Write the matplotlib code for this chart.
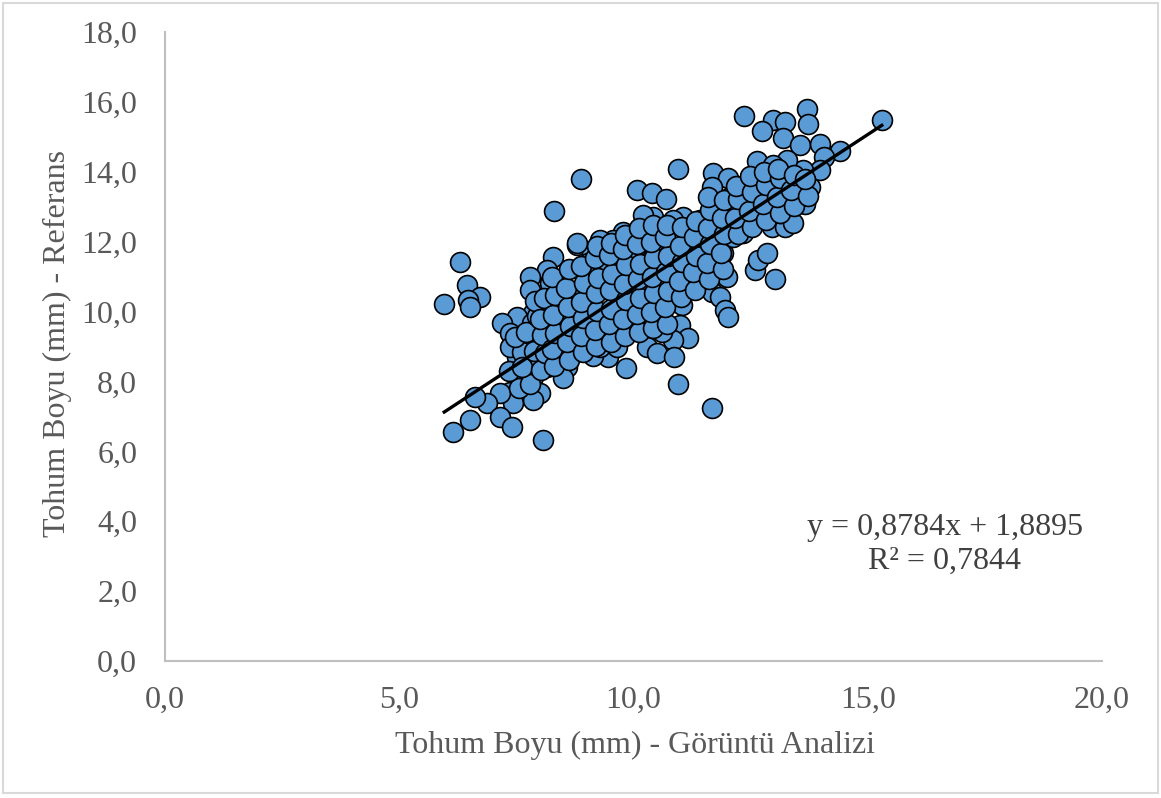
import matplotlib
matplotlib.use("Agg")
import matplotlib.pyplot as plt
from matplotlib.patches import Rectangle
import numpy as np

# Seed length (mm): image analysis (x) vs reference (y)
x_vals = [
    12.36, 12.98, 13.23, 12.74, 13.19, 13.70, 13.72, 13.55, 13.98, 14.41, 15.30, 14.06,
    10.95, 8.88, 8.30, 10.07, 10.39, 10.69, 11.70, 12.02, 11.68, 12.64, 12.55, 12.06,
    13.23, 13.38, 13.66, 13.70, 12.85, 12.42, 11.85, 12.96, 13.23, 12.59, 12.12, 11.91,
    12.34, 11.36, 11.06, 10.84, 10.42, 10.20, 10.63, 10.29, 9.78, 9.56, 9.28, 8.79,
    9.11, 9.03, 9.35, 9.71, 9.99, 10.42, 10.78, 11.14, 11.42, 11.63, 11.91, 12.12,
    11.57, 11.14, 10.93, 10.57, 10.29, 10.03, 9.78, 9.65, 9.99, 10.42, 10.72, 11.06,
    11.42, 11.68, 12.00, 11.85, 11.95, 12.02, 12.59, 12.66, 12.85, 13.02,
    6.30, 6.45, 6.72, 6.47, 5.96, 6.51,
    8.28, 8.15, 7.79, 7.79, 8.79, 8.43, 8.58, 8.86, 9.07, 8.28, 8.00, 7.85,
    7.51, 7.19, 7.36, 7.83, 8.15, 8.47, 8.79, 9.01, 9.43, 9.71, 9.99, 10.29,
    10.57, 11.04, 10.99, 11.16, 10.84, 10.61, 10.25, 10.29, 10.50, 10.86, 10.95, 11.68,
    9.84, 9.46, 9.14, 9.01, 8.64, 8.37, 8.07, 8.28, 8.58, 8.50, 8.15, 7.85,
    7.73, 7.51, 7.36, 7.85, 8.00, 7.58, 7.36, 7.43, 7.15, 6.87, 6.62, 6.51,
    6.15, 7.15, 7.41, 8.07, 7.85, 9.28, 9.65, 9.01, 8.58, 8.22, 9.65, 10.14,
    11.27, 12.34, 12.76, 13.13, 13.40, 13.66, 13.77, 13.98, 13.62, 13.28, 12.98, 12.85,
    12.42, 12.12, 11.42, 11.57,
    # points in the dense core of the cloud
    7.55, 7.35, 7.62, 7.48,
    7.80, 7.62, 7.88, 7.70, 7.95, 7.90,
    8.02, 8.12, 8.04, 8.00, 8.10,
    8.31, 8.27, 8.33, 8.29, 8.32, 8.26,
    8.62, 8.57, 8.64, 8.60, 8.56, 8.63,
    8.92, 8.87, 8.93, 8.89, 8.94, 8.88,
    9.21, 9.17, 9.23, 9.19, 9.24, 9.18, 9.22,
    9.52, 9.47, 9.53, 9.49, 9.54, 9.48, 9.51,
    9.82, 9.77, 9.83, 9.79, 9.84, 9.78, 9.81,
    10.12, 10.07, 10.13, 10.09, 10.14, 10.08, 10.11,
    10.42, 10.37, 10.43, 10.39, 10.44, 10.38, 10.41,
    10.72, 10.67, 10.73, 10.69, 10.74, 10.68, 10.71,
    11.02, 10.97, 11.03, 10.99, 11.04,
    11.32, 11.27, 11.33, 11.29, 11.34,
    11.62, 11.57, 11.63, 11.59, 11.64, 11.58,
    11.92, 11.87, 11.93, 11.89, 11.94,
    12.22, 12.17, 12.23, 12.19,
    12.52, 12.47, 12.53, 12.49,
    12.82, 12.77, 12.83, 12.79,
    13.12, 13.07, 13.13, 13.09,
    13.42, 13.37, 13.43,
    13.72, 13.67,
]
y_vals = [
    15.60, 15.48, 15.43, 15.17, 14.97, 15.80, 15.37, 14.77, 14.80, 14.60, 15.48, 14.42,
    14.08, 13.80, 12.88, 13.48, 13.39, 13.22, 13.97, 13.82, 13.57, 14.31, 13.68, 13.28,
    13.77, 13.34, 13.11, 13.62, 13.16, 13.05, 12.99, 12.42, 12.42, 12.82, 12.62, 12.25,
    12.25, 12.39, 12.71, 12.62, 12.71, 12.77, 12.05, 11.85, 12.28, 12.05, 12.05, 11.91,
    11.68, 11.39, 11.19, 11.68, 11.56, 11.56, 11.68, 11.76, 11.56, 11.96, 11.68, 12.14,
    11.48, 11.28, 10.90, 10.82, 10.70, 11.10, 10.99, 10.62, 10.42, 10.42, 10.53, 10.62,
    10.70, 10.56, 10.99, 10.42, 10.05, 9.85, 11.19, 11.48, 11.68, 10.93,
    11.42, 10.76, 10.42, 10.33, 10.22, 10.13,
    11.56, 11.19, 10.99, 10.62, 11.96, 10.90, 10.53, 10.42, 10.62, 10.13, 10.13, 9.96,
    9.85, 9.67, 9.39, 9.67, 9.76, 9.76, 9.85, 9.67, 9.56, 9.96, 10.05, 9.96,
    10.05, 10.19, 9.62, 9.24, 9.19, 9.42, 9.42, 8.99, 8.82, 8.70, 7.93, 7.24,
    8.39, 8.70, 8.73, 9.19, 9.39, 9.19, 9.10, 8.61, 8.41, 8.10, 8.41, 8.53,
    8.90, 8.70, 8.99, 8.13, 7.67, 8.04, 7.70, 7.38, 7.67, 7.38, 7.56, 6.90,
    6.55, 6.98, 6.70, 6.33, 7.47, 8.99, 8.99, 10.05, 10.25, 10.82, 11.28, 10.70,
    11.10, 12.54, 12.71, 12.82, 12.54, 13.08, 13.57, 14.05, 14.05, 14.34, 14.20, 13.57,
    13.68, 12.99, 12.62, 12.14,
    # points in the dense core of the cloud
    7.82, 8.31, 8.83, 9.28,
    7.93, 8.42, 8.88, 9.41, 9.87, 10.31,
    8.32, 8.81, 9.33, 9.79, 10.38,
    8.43, 8.92, 9.38, 9.91, 10.47, 10.98,
    8.62, 9.13, 9.58, 10.12, 10.68, 11.21,
    8.83, 9.29, 9.82, 10.27, 10.83, 11.31,
    9.02, 9.48, 10.03, 10.52, 10.97, 11.52, 11.88,
    9.12, 9.63, 10.08, 10.61, 11.08, 11.62, 11.97,
    9.31, 9.78, 10.32, 10.79, 11.33, 11.78, 12.18,
    9.42, 9.93, 10.38, 10.92, 11.37, 11.92, 12.38,
    9.52, 9.98, 10.53, 10.98, 11.52, 11.98, 12.47,
    9.63, 10.12, 10.58, 11.13, 11.58, 12.12, 12.48,
    10.42, 10.88, 11.42, 11.88, 12.43,
    10.62, 11.12, 11.58, 12.13, 12.58,
    10.92, 11.38, 11.93, 12.38, 12.92, 13.28,
    11.22, 11.68, 12.23, 12.68, 13.18,
    12.22, 12.68, 13.22, 13.58,
    12.42, 12.88, 13.42, 13.87,
    12.62, 13.08, 13.62, 13.98,
    12.82, 13.28, 13.82, 14.08,
    13.02, 13.48, 13.92,
    13.32, 13.78,
]

slope = 0.8784
intercept = 1.8895
r_squared = 0.7844

x_ticks = [0, 5, 10, 15, 20]
y_ticks = [0, 2, 4, 6, 8, 10, 12, 14, 16, 18]

plt.rcParams['font.family'] = ['Liberation Serif', 'DejaVu Serif']

fig = plt.figure(figsize=(11.61, 7.98), dpi=100)
ax = fig.add_axes([165/1161, 1 - 661/798, (1102-165)/1161, (661-32)/798])

fig.patches.append(Rectangle((3/1161, 5/798), 1155/1161, 790/798, transform=fig.transFigure,
                             fill=False, edgecolor='#D9D9D9', linewidth=1.5))

ax.scatter(x_vals, y_vals, s=205, facecolor='#5B9BD5', edgecolor='black', linewidth=1.2, zorder=3)

xl = np.array([min(x_vals), max(x_vals)])
ax.plot(xl, slope * xl + intercept, color='black', linewidth=2.4, zorder=4)

ax.set_xlim(0, 20)
ax.set_ylim(0, 18)
ax.set_xticks(x_ticks)
ax.set_yticks(y_ticks)
ax.set_xticklabels([f"{v:.1f}".replace('.', ',') for v in x_ticks])
ax.set_yticklabels([f"{v:.1f}".replace('.', ',') for v in y_ticks])
ax.tick_params(length=0, labelsize=23, colors='#595959')
ax.tick_params(axis='x', pad=18)
ax.tick_params(axis='y', pad=20)

for s in ['top', 'right']:
    ax.spines[s].set_visible(False)
for s in ['left', 'bottom']:
    ax.spines[s].set_color('#BFBFBF')
    ax.spines[s].set_linewidth(1.5)

ax.set_xlabel('Tohum Boyu (mm) - Görüntü Analizi', fontsize=23, color='#595959', va='center')
ax.xaxis.set_label_coords(0.5016, -0.135)
ax.set_ylabel('Tohum Boyu (mm) - Referans', fontsize=23, color='#595959', va='center', ha='center')
ax.yaxis.set_label_coords(-0.115, 0.505)

eq = f"y = {slope:.4f}x + {intercept:.4f}".replace('.', ',')
r2 = f"R² = {r_squared:.4f}".replace('.', ',')
fig.text(945/1161, 1 - 527/798, eq, ha='center', va='center', fontsize=23, color='#404040')
fig.text(945/1161, 1 - 561/798, r2, ha='center', va='center', fontsize=23, color='#404040')

fig.savefig('out.png', dpi=100)
